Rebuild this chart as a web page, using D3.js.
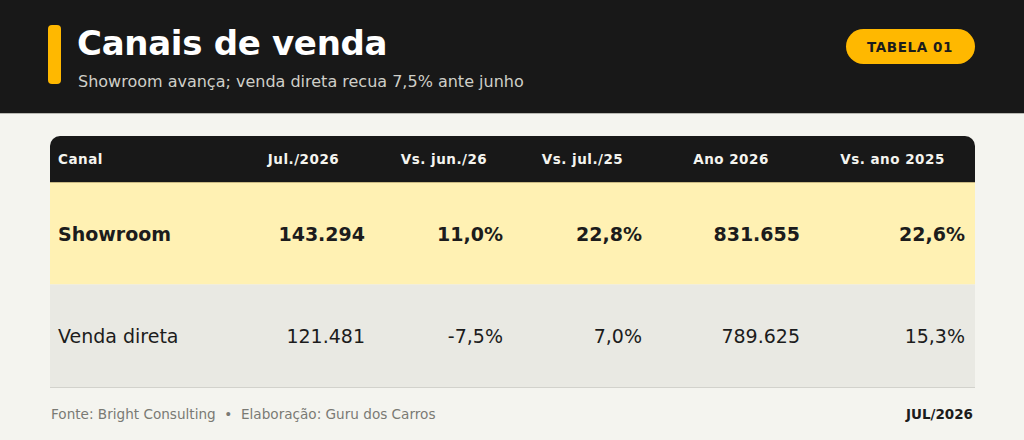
<!DOCTYPE html>
<html>
<head>
<meta charset="utf-8">
<script src="https://cdn.jsdelivr.net/npm/d3@7"></script>
<style>
  html, body { margin: 0; padding: 0; background: #f4f4ef; }
  svg { display: block; font-family: "DejaVu Sans", sans-serif; }
</style>
</head>
<body>
<script>
(function() {

	// data
	var columns = ['Canal', 'Jul./2026', 'Vs. jun./26', 'Vs. jul./25', 'Ano 2026', 'Vs. ano 2025'];
	var channels = ['Showroom', 'Venda direta'];
	var jul2026 = [143294, 121481];
	var vsJun26 = [11.0, -7.5];
	var vsJul25 = [22.8, 7.0];
	var ano2026 = [831655, 789625];
	var vsAno2025 = [22.6, 15.3];
	var highlight = ['Showroom'];

	var width = 1024;
	var height = 440;

	var locale = d3.formatLocale({ decimal: ',', thousands: '.', grouping: [3], currency: ['R$', ''], minus: '-' });
	var fmtInt = locale.format(',d');
	var fmtPct = function(v) { return locale.format('.1f')(v) + '%'; };

	var rows = channels.map(function(c, i) {
		return [c, fmtInt(jul2026[i]), fmtPct(vsJun26[i]), fmtPct(vsJul25[i]), fmtInt(ano2026[i]), fmtPct(vsAno2025[i])];
	});

	var svg = d3.select('body')
		.append('svg')
			.attr('width', width)
			.attr('height', height);

	svg.append('rect')
		.attr('width', width)
		.attr('height', height)
		.attr('fill', '#f4f4ef');

	// top band
	svg.append('rect')
		.attr('width', width)
		.attr('height', 114)
		.attr('fill', '#181818');
	svg.append('line')
		.attr('x1', 0).attr('x2', width)
		.attr('y1', 113.5).attr('y2', 113.5)
		.attr('stroke', '#b8b8b2');

	svg.append('rect')
		.attr('x', 48).attr('y', 25)
		.attr('width', 13).attr('height', 59)
		.attr('rx', 4)
		.attr('fill', '#ffb800');

	svg.append('text')
		.attr('x', 77).attr('y', 55)
		.attr('fill', '#ffffff')
		.style('font-size', '34px')
		.style('font-weight', 'bold')
		.style('letter-spacing', '-0.3px')
		.text('Canais de venda');

	svg.append('text')
		.attr('x', 78).attr('y', 87)
		.attr('fill', '#cfcfc8')
		.style('font-size', '16px')
		.text('Showroom avança; venda direta recua 7,5% ante junho');

	svg.append('rect')
		.attr('x', 846).attr('y', 29)
		.attr('width', 129).attr('height', 35)
		.attr('rx', 17.5)
		.attr('fill', '#ffb800');
	svg.append('text')
		.attr('x', 910).attr('y', 51.5)
		.attr('text-anchor', 'middle')
		.attr('fill', '#1c1c1c')
		.style('font-size', '13.5px')
		.style('font-weight', 'bold')
		.style('letter-spacing', '0.6px')
		.text('TABELA 01');

	// table
	var left = 50, right = 975;
	var headTop = 136, headBottom = 182, tableBottom = 387;
	var colEdges = [left, 232, 375, 513, 652, 810, right];
	var colLeft = d3.scaleOrdinal().domain(columns).range(colEdges.slice(0, -1));
	var colRight = d3.scaleOrdinal().domain(columns).range(colEdges.slice(1));

	var y = d3.scaleBand()
		.domain(channels)
		.range([headBottom, tableBottom]);

	var r = 10;
	var headPath = d3.path();
	headPath.moveTo(left, headBottom);
	headPath.lineTo(left, headTop + r);
	headPath.arcTo(left, headTop, left + r, headTop, r);
	headPath.lineTo(right - r, headTop);
	headPath.arcTo(right, headTop, right, headTop + r, r);
	headPath.lineTo(right, headBottom);
	headPath.closePath();
	svg.append('path')
		.attr('d', headPath.toString())
		.attr('fill', '#181818');

	svg.selectAll('text.head')
		.data(columns)
		.enter()
		.append('text')
			.attr('class', 'head')
			.attr('x', function(d, i) { return i === 0 ? colLeft(d) + 8 : (colLeft(d) + colRight(d)) / 2; })
			.attr('y', 164)
			.attr('text-anchor', function(d, i) { return i === 0 ? 'start' : 'middle'; })
			.attr('fill', '#f4f4ef')
			.style('font-size', '13.5px')
			.style('font-weight', 'bold')
			.style('letter-spacing', '0.5px')
			.text(function(d) { return d; });

	var rowG = svg.selectAll('g.row')
		.data(rows)
		.enter()
		.append('g')
			.attr('class', 'row')
			.attr('transform', function(d) { return 'translate(0,' + y(d[0]) + ')'; });

	rowG.append('rect')
		.attr('x', left)
		.attr('width', right - left)
		.attr('height', y.bandwidth())
		.attr('fill', function(d) { return highlight.indexOf(d[0]) >= 0 ? '#fff1b3' : '#e9e9e3'; });

	rowG.selectAll('text')
		.data(function(d) {
			var hl = highlight.indexOf(d[0]) >= 0;
			return d.map(function(v, i) { return { value: v, col: columns[i], i: i, hl: hl }; });
		})
		.enter()
		.append('text')
			.attr('x', function(d) { return d.i === 0 ? colLeft(d.col) + 8 : colRight(d.col) - 10; })
			.attr('y', y.bandwidth() / 2 + 7.5)
			.attr('text-anchor', function(d) { return d.i === 0 ? 'start' : 'end'; })
			.attr('fill', '#1c1c1c')
			.style('font-size', '19px')
			.style('font-weight', function(d) { return d.hl ? 'bold' : 'normal'; })
			.text(function(d) { return d.value; });

	svg.append('line')
		.attr('x1', left).attr('x2', right)
		.attr('y1', headBottom + 0.5).attr('y2', headBottom + 0.5)
		.attr('stroke', '#c9b983');

	svg.append('line')
		.attr('x1', left).attr('x2', right)
		.attr('y1', tableBottom + 0.5).attr('y2', tableBottom + 0.5)
		.attr('stroke', '#d2d2cc');

	// footer
	svg.append('text')
		.attr('x', 51).attr('y', 419)
		.attr('fill', '#7a7a74')
		.style('font-size', '13.6px')
		.style('white-space', 'pre')
		.text('Fonte: Bright Consulting  •  Elaboração: Guru dos Carros');

	svg.append('text')
		.attr('x', 973).attr('y', 419)
		.attr('text-anchor', 'end')
		.attr('fill', '#1c1c1c')
		.style('font-size', '13.5px')
		.style('font-weight', 'bold')
		.text('JUL/2026');

})();
</script>
</body>
</html>
